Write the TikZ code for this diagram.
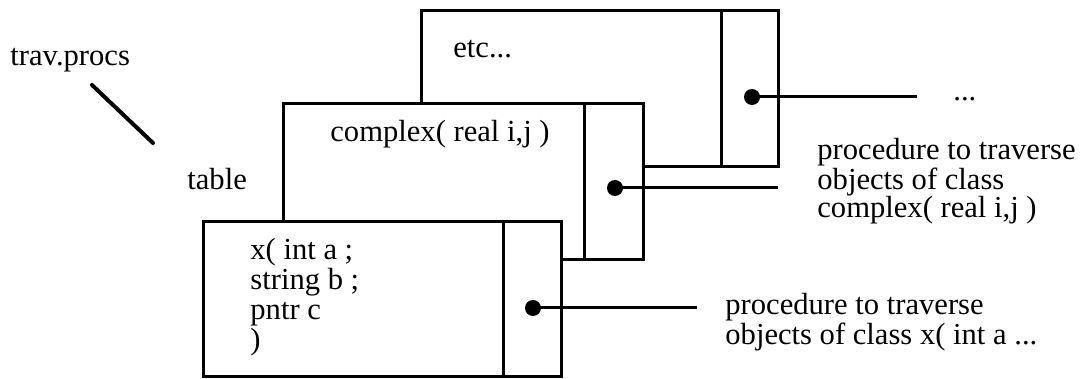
\documentclass[tikz,border=0pt]{standalone}
\usepackage{fontspec}
\setmainfont{Liberation Serif}
\usetikzlibrary{fit}
\begin{document}
\begin{tikzpicture}[x=0.5pt,y=-0.5pt,
  tbox/.style={draw, line width=1.5pt, fill=white, inner sep=0pt},
  wire/.style={line width=1.5pt},
  lbl/.style={inner sep=0pt, anchor=base west, font=\fontsize{15.3}{15}\selectfont},
  mlbl/.style={lbl, align=left},
  pdot/.style={circle, fill=black, draw=none, inner sep=0pt, minimum size=8pt}]
\useasboundingbox (0,0) rectangle (1088,379);
% labels at the left
\node[lbl] (trav) at (10,66) {trav.procs};
\node[lbl] (table) at (187,190) {table};
\coordinate (slashA) at (92,85);
\coordinate (slashB) at (153,143);
\draw[line width=2pt, line cap=round] (slashA) -- (slashB);
% etc box
\node[tbox, fit={(421,11) (778,167)}] (etcbox) {};
\coordinate (etcdiv) at (721,0);
\draw[wire] (etcdiv |- etcbox.north) -- (etcdiv |- etcbox.south);
\node[lbl] (etclbl) at (453,58) {etc...};
\node[pdot] (etcdot) at (752,97) {};
\coordinate (etcend) at (917,97);
\draw[wire] (etcdot.center) -- (etcend);
\node[lbl] (more) at (953,101) {...};
% complex box
\node[tbox, fit={(283,104) (643,260)}] (cxbox) {};
\coordinate (cxdiv) at (584,0);
\draw[wire] (cxdiv |- cxbox.north) -- (cxdiv |- cxbox.south);
\node[lbl] (cxlbl) at (330,142) {complex( real i,j )};
\node[pdot] (cxdot) at (615,188) {};
\coordinate (cxend) at (778,188);
\draw[wire] (cxdot.center) -- (cxend);
\node[mlbl, font=\fontsize{15.3}{14}\selectfont] (cxproc) at (817,218) {procedure to traverse\\objects of class\\complex( real i,j )};
% x box
\node[tbox, fit={(203,222) (561,377)}] (xbox) {};
\coordinate (xdiv) at (503,0);
\draw[wire] (xdiv |- xbox.north) -- (xdiv |- xbox.south);
\node[mlbl] (xlbl) at (250,350) {x( int a ;\\string b ;\\pntr c\\)};
\node[pdot] (xdot) at (533,308) {};
\coordinate (xend) at (697,308);
\draw[wire] (xdot.center) -- (xend);
\node[mlbl, font=\fontsize{15.3}{13.5}\selectfont] (xproc) at (725,345) {procedure to traverse\\objects of class x( int a ...};
\end{tikzpicture}
\end{document}
